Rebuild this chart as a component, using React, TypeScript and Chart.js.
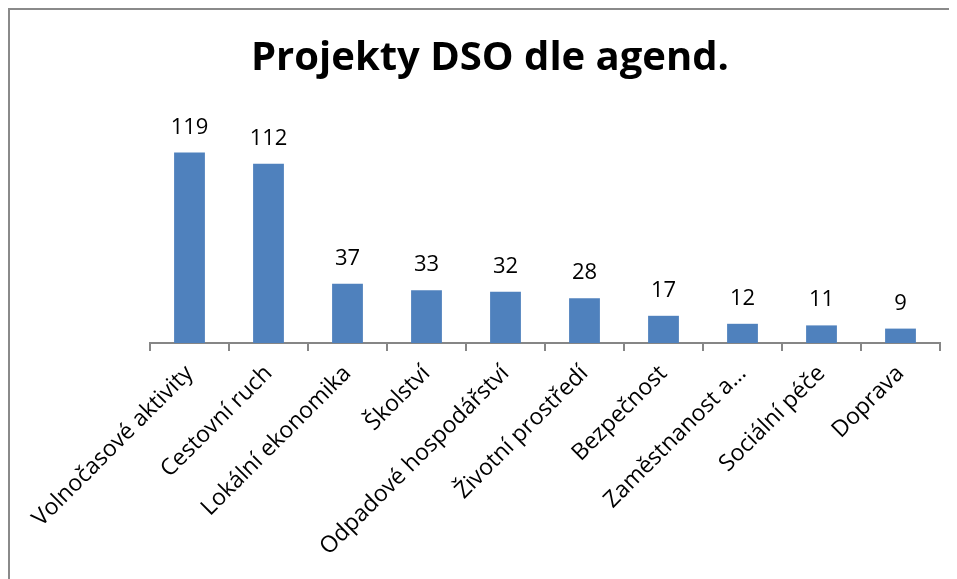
import React, { useEffect, useRef } from "react";
import { Chart, registerables } from "chart.js";

Chart.register(...registerables);

const categories = [
  "Volnočasové aktivity",
  "Cestovní ruch",
  "Lokální ekonomika",
  "Školství",
  "Odpadové hospodářství",
  "Životní prostředí",
  "Bezpečnost",
  "Zaměstnanost a…",
  "Sociální péče",
  "Doprava",
];
const values = [119, 112, 37, 33, 32, 28, 17, 12, 11, 9];
const titleText = "Projekty DSO dle agend.";

const FONT = "'Open Sans', 'DejaVu Sans', sans-serif";

const dataLabelPlugin = {
  id: "dataLabels",
  afterDatasetsDraw(chart: any) {
    const ctx = chart.ctx;
    const meta = chart.getDatasetMeta(0);
    ctx.save();
    ctx.font = `22px ${FONT}`;
    ctx.fillStyle = "#000";
    ctx.textAlign = "center";
    ctx.textBaseline = "alphabetic";
    meta.data.forEach((bar: any, i: number) => {
      ctx.fillText(String(values[i]), bar.x, bar.y - 19);
    });
    ctx.restore();
  },
};

const titlePlugin = {
  id: "customTitle",
  afterDraw(chart: any) {
    const ctx = chart.ctx;
    ctx.save();
    ctx.font = `bold 40px ${FONT}`;
    ctx.fillStyle = "#000";
    ctx.textAlign = "center";
    ctx.textBaseline = "alphabetic";
    ctx.fillText(titleText, 480, 60);
    ctx.restore();
  },
};

export default function App() {
  const ref = useRef<HTMLCanvasElement>(null);
  useEffect(() => {
    if (!ref.current) return;
    const chart = new Chart(ref.current, {
      type: "bar",
      data: {
        labels: categories,
        datasets: [
          {
            data: values,
            backgroundColor: "#4F81BD",
            borderColor: "#4F81BD",
            borderWidth: 0,
            categoryPercentage: 1,
            barPercentage: 0.39,
          },
        ],
      },
      options: {
        animation: false,
        responsive: false,
        maintainAspectRatio: false,
        layout: { padding: { left: 140, right: 17, top: 109, bottom: 0 } },
        plugins: {
          legend: { display: false },
          tooltip: { enabled: false },
          title: { display: false },
        },
        scales: {
          x: {
            grid: {
              offset: true,
              drawOnChartArea: false,
              drawTicks: true,
              tickLength: 8,
              color: "#868686",
              lineWidth: 2,
            },
            border: { display: true, color: "#868686", width: 2 },
            ticks: {
              color: "#000",
              font: { family: FONT, size: 23 },
              minRotation: 45,
              maxRotation: 45,
              padding: 9,
              autoSkip: false,
            },
            afterFit: (s: any) => {
              s.height = 236;
            },
          },
          y: {
            display: false,
            min: 0,
            max: 140,
          },
        },
      },
      plugins: [dataLabelPlugin, titlePlugin],
    });
    return () => chart.destroy();
  }, []);
  return (
    <div
      style={{
        width: 949,
        height: 571,
        boxSizing: "border-box",
        borderLeft: "2px solid #8a8a8a",
        borderTop: "2px solid #8a8a8a",
        background: "#fff",
      }}
    >
      <canvas ref={ref} width={947} height={569} style={{ display: "block" }} />
    </div>
  );
}
